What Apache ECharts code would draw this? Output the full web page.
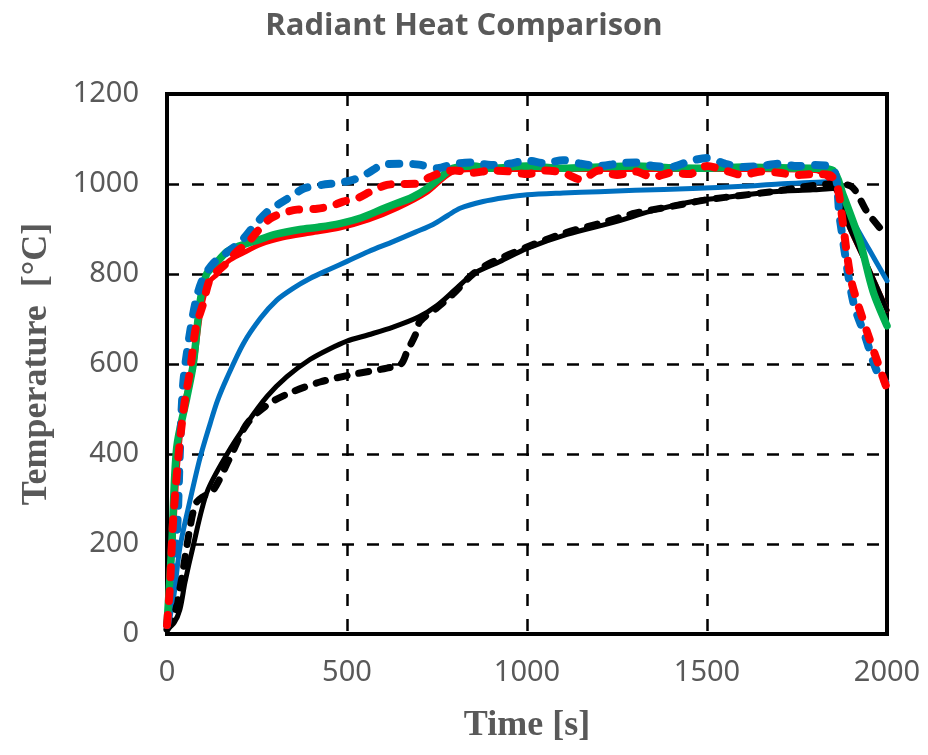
<!DOCTYPE html>
<html>
<head>
<meta charset="utf-8">
<script src="https://cdn.jsdelivr.net/npm/echarts@6/dist/echarts.min.js"></script>
<style>html,body{margin:0;padding:0;background:#fff;}#c{width:928px;height:755px;}</style>
</head>
<body>
<div id="c"></div>
<script>
// Axis ticks
const xTicks = [0, 500, 1000, 1500, 2000];
const yTicks = [0, 200, 400, 600, 800, 1000, 1200];

// Blue dashed
const bdT = [0, 8, 18, 28, 36, 45, 60, 80, 100, 130, 170, 205, 240, 280, 310, 340, 380, 430, 480, 520, 560, 600, 650, 700, 750, 800, 850, 900, 950, 1000, 1050, 1100, 1150, 1200, 1250, 1300, 1350, 1400, 1450, 1500, 1550, 1600, 1650, 1700, 1750, 1800, 1850, 1869, 1906, 1940, 1972, 1995];
const bdV = [20, 60, 150, 230, 410, 556, 650, 740, 790, 825, 850, 872, 905, 939, 955, 970, 990, 998, 1003, 1010, 1025, 1043, 1045, 1043, 1035, 1045, 1048, 1042, 1045, 1052, 1046, 1053, 1045, 1040, 1045, 1048, 1040, 1038, 1050, 1058, 1045, 1038, 1040, 1045, 1040, 1042, 1035, 923, 739, 660, 584, 560];

// Red dashed
const rdT = [0, 8, 17, 36, 50, 64, 80, 100, 120, 145, 167, 194, 225, 250, 286, 320, 361, 417, 460, 489, 528, 570, 611, 650, 694, 730, 767, 800, 850, 900, 950, 1000, 1050, 1100, 1150, 1200, 1250, 1300, 1350, 1400, 1450, 1500, 1550, 1600, 1650, 1700, 1750, 1800, 1840, 1861, 1878, 1889, 1903, 1944, 2000];
const rdV = [20, 104, 252, 430, 520, 584, 680, 733, 790, 810, 825, 850, 870, 894, 923, 935, 943, 945, 952, 961, 968, 985, 998, 1000, 1001, 1015, 1027, 1030, 1025, 1030, 1028, 1022, 1030, 1025, 1010, 1030, 1020, 1028, 1015, 1025, 1022, 1040, 1030, 1020, 1028, 1025, 1020, 1022, 1020, 998, 910, 843, 777, 673, 545];

// Red solid (mostly under green)
const rsT = [0, 15, 30, 50, 73, 95, 115, 140, 170, 210, 260, 320, 400, 480, 560, 640, 720, 790, 850, 1000, 1200, 1400, 1600, 1800, 1850, 1897, 1950, 2000];
const rsV = [20, 180, 380, 520, 590, 720, 780, 800, 828, 846, 866, 880, 891, 902, 920, 946, 980, 1025, 1032, 1032, 1032, 1032, 1032, 1030, 1000, 901, 810, 720];

// Green solid
const gsT = [0, 13, 27, 55, 73, 92, 110, 130, 167, 200, 258, 300, 369, 420, 480, 540, 600, 628, 680, 722, 760, 794, 850, 900, 1000, 1100, 1200, 1300, 1400, 1500, 1600, 1700, 1800, 1850, 1878, 1925, 1961, 2000];
const gsV = [20, 193, 414, 525, 600, 739, 800, 818, 850, 862, 877, 888, 899, 904, 912, 925, 945, 954, 970, 990, 1015, 1035, 1040, 1035, 1040, 1035, 1038, 1040, 1036, 1035, 1038, 1036, 1035, 1030, 976, 872, 762, 685];

// Blue solid
const bsT = [0, 10, 20, 36, 64, 92, 120, 140, 166, 212, 260, 305, 350, 397, 450, 500, 560, 628, 690, 739, 780, 814, 878, 940, 1000, 1100, 1200, 1300, 1460, 1600, 1700, 1850, 1900, 1950, 2000];
const bsV = [20, 45, 90, 193, 297, 392, 468, 518, 568, 645, 702, 742, 768, 790, 810, 828, 850, 872, 893, 910, 930, 946, 961, 970, 976, 980, 983, 986, 990, 995, 1000, 1005, 925, 855, 785];

// Black solid
const ksT = [0, 20, 36, 50, 72, 111, 167, 222, 278, 333, 397, 450, 500, 560, 628, 700, 750, 800, 850, 925, 1000, 1111, 1250, 1342, 1461, 1550, 1683, 1794, 1850, 1897, 1950, 2000];
const ksV = [10, 25, 55, 115, 193, 315, 400, 468, 528, 572, 610, 633, 651, 665, 682, 705, 730, 765, 800, 828, 857, 888, 917, 939, 961, 970, 983, 987, 990, 901, 810, 720];

// Black dashed
const kdT = [0, 20, 40, 64, 80, 100, 128, 175, 222, 280, 342, 425, 517, 611, 650, 667, 690, 703, 750, 794, 850, 900, 1000, 1100, 1200, 1300, 1400, 1500, 1600, 1700, 1780, 1850, 1900, 1944, 1989, 2000];
const kdV = [10, 40, 120, 237, 290, 305, 319, 392, 467, 510, 536, 560, 577, 591, 600, 628, 665, 695, 725, 755, 800, 825, 860, 890, 912, 935, 950, 965, 975, 985, 995, 1000, 995, 939, 894, 885];

const pairs = (t, v) => t.map((x, i) => [x, v[i]]);
const gray = '#595959';

function line(name, t, v, color, width, dash) {
  return {
    name, type: 'line', data: pairs(t, v), showSymbol: false, symbol: 'none',
    smooth: 0.3, clip: true,
    lineStyle: { color, width, type: dash || 'solid', cap: 'round', join: 'round' }
  };
}

const chart = echarts.init(document.getElementById('c'), null, { renderer: 'canvas' });
chart.setOption({
  animation: false,
  backgroundColor: '#ffffff',
  title: {
    text: 'Radiant Heat Comparison', left: 'center', top: 6,
    textStyle: { fontFamily: 'Open Sans', fontWeight: 'bold', fontSize: 31, color: gray }
  },
  grid: { left: 167, right: 41, top: 94, bottom: 121, show: true, borderColor: '#000', borderWidth: 4 },
  xAxis: {
    type: 'value', min: xTicks[0], max: xTicks[xTicks.length - 1], interval: xTicks[1] - xTicks[0],
    name: 'Time [s]', nameLocation: 'middle', nameGap: 74,
    nameTextStyle: { fontFamily: 'Liberation Serif', fontWeight: 'bold', fontSize: 36, color: gray },
    axisLine: { show: true, lineStyle: { color: '#000', width: 4 } },
    axisTick: { show: false },
    axisLabel: { fontFamily: 'Noto Sans', fontSize: 29, color: gray, margin: 24, formatter: v => String(v) },
    splitLine: { show: true, lineStyle: { color: '#000', width: 2.5, type: [12, 13] } }
  },
  yAxis: {
    type: 'value', min: yTicks[0], max: yTicks[yTicks.length - 1], interval: yTicks[1] - yTicks[0],
    name: 'Temperature  [°C]', nameLocation: 'middle', nameGap: 112,
    nameTextStyle: { fontFamily: 'Liberation Serif', fontWeight: 'bold', fontSize: 36, color: gray },
    axisLine: { show: true, lineStyle: { color: '#000', width: 4 } },
    axisTick: { show: false },
    axisLabel: { fontFamily: 'Noto Sans', fontSize: 29, color: gray, margin: 28, formatter: v => String(v) },
    splitLine: { show: true, lineStyle: { color: '#000', width: 2.5, type: [12, 13] } }
  },
  series: [
    line('Blue solid', bsT, bsV, '#0070C0', 5),
    line('Red solid', rsT, rsV, '#FF0000', 5),
    line('Black solid', ksT, ksV, '#000000', 5),
    line('Black dashed', kdT, kdV, '#000000', 7, [10, 12]),
    line('Green', gsT, gsV, '#00B050', 7.5),
    line('Blue dashed', bdT, bdV, '#0070C0', 8, [10, 14]),
    line('Red dashed', rdT, rdV, '#FF0000', 8, [10, 14])
  ]
});
</script>
</body>
</html>
